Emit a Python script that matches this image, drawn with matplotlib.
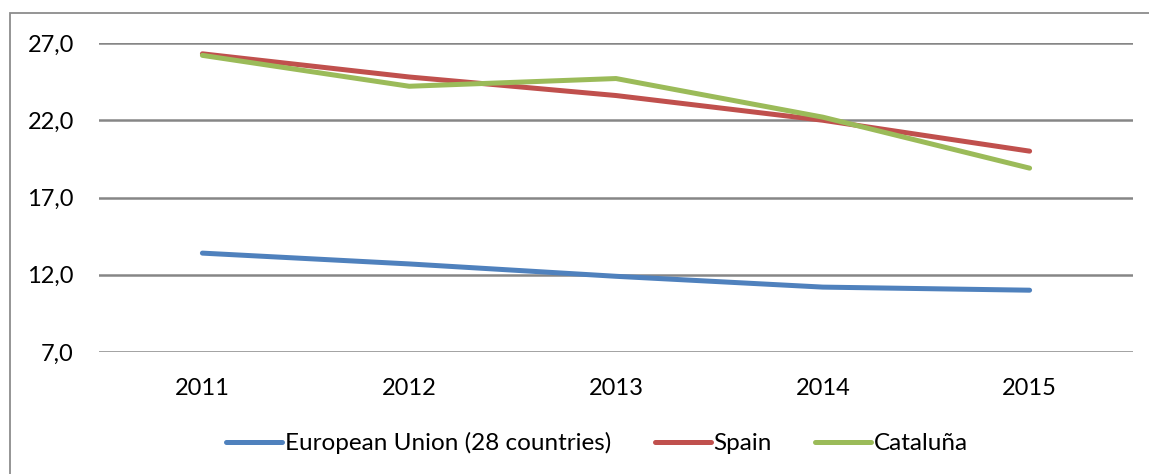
import matplotlib
matplotlib.use("Agg")
import matplotlib.pyplot as plt
from matplotlib.patches import Rectangle

years = ["2011", "2012", "2013", "2014", "2015"]
eu = [13.4, 12.7, 11.9, 11.2, 11.0]
spain = [26.3, 24.8, 23.6, 22.0, 20.0]
cataluna = [26.2, 24.2, 24.7, 22.2, 18.9]
yticks = [7, 12, 17, 22, 27]
labels = ["European Union (28 countries)", "Spain", "Cataluña"]
colors = ["#4F81BD", "#C0504D", "#9BBB59"]

plt.rcParams['font.family'] = ['Lato', 'DejaVu Sans']

W, H = 1149, 474
fig = plt.figure(figsize=(W/100, H/100), dpi=100)
fig.patches.append(Rectangle((10/W, -0.1), 1.5, (H-13)/H + 0.1, transform=fig.transFigure,
                             fill=False, edgecolor="#8C8C8C", linewidth=1.3))
ax = fig.add_axes([99/W, 1-352/H, (1133-99)/W, (352-43)/H])
x = list(range(len(years)))
for series, lab, c in zip([eu, spain, cataluna], labels, colors):
    ax.plot(x, series, color=c, linewidth=3.6, label=lab, solid_capstyle='round')
ax.set_xlim(-0.5, len(years)-0.5)
ax.set_ylim(7, 27)
ax.set_yticks(yticks)
ax.set_yticklabels([f"{v:.1f}".replace(".", ",") for v in yticks])
ax.set_xticks(x)
ax.set_xticklabels(years)
ax.grid(axis='y', color="#868686", linewidth=1.8)
ax.set_axisbelow(True)
for s in ax.spines.values():
    s.set_visible(False)
ax.tick_params(length=0, labelsize=17)
ax.tick_params(axis='y', pad=18)
ax.tick_params(axis='x', pad=19)
leg = fig.legend(loc='center', bbox_to_anchor=(597/W, 1-443/H), ncol=3, frameon=False,
                 fontsize=17.5, handlelength=2.3, handletextpad=0.1, columnspacing=1.8)
fig.savefig("out.png", dpi=100)
